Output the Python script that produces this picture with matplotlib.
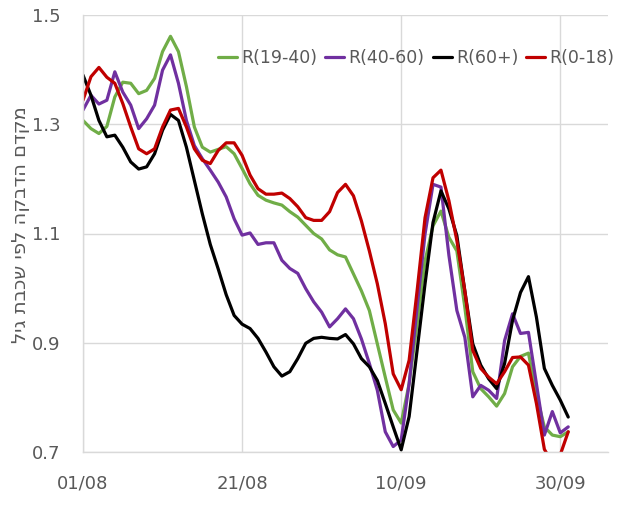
import pandas as pd
import matplotlib
matplotlib.use("Agg")
import matplotlib.pyplot as plt
import matplotlib.dates as mdates

# daily values, 01/08 .. 01/10
dates = pd.date_range("2020-08-01", periods=62, freq="D")

r_19_40 = [1.307, 1.292, 1.283, 1.296, 1.350, 1.377, 1.375, 1.356, 1.362, 1.384,
           1.433, 1.461, 1.433, 1.369, 1.295, 1.258, 1.249, 1.254, 1.259, 1.246,
           1.219, 1.191, 1.170, 1.161, 1.156, 1.152, 1.140, 1.130, 1.115, 1.100,
           1.090, 1.070, 1.061, 1.057, 1.026, 0.995, 0.959, 0.898, 0.837, 0.777,
           0.753, 0.825, 0.935, 1.050, 1.114, 1.141, 1.093, 1.068, 0.965, 0.847,
           0.816, 0.801, 0.784, 0.807, 0.856, 0.875, 0.881, 0.805, 0.746, 0.731,
           0.728, 0.737]

r_40_60 = [1.326, 1.353, 1.337, 1.344, 1.396, 1.359, 1.335, 1.292, 1.310, 1.335,
           1.399, 1.427, 1.375, 1.307, 1.261, 1.237, 1.216, 1.194, 1.167, 1.127,
           1.097, 1.101, 1.080, 1.083, 1.083, 1.051, 1.036, 1.027, 0.999, 0.975,
           0.956, 0.929, 0.944, 0.962, 0.944, 0.907, 0.862, 0.813, 0.737, 0.710,
           0.722, 0.825, 0.965, 1.099, 1.190, 1.185, 1.060, 0.959, 0.910, 0.801,
           0.822, 0.813, 0.798, 0.904, 0.953, 0.917, 0.919, 0.825, 0.731, 0.774,
           0.735, 0.746]

r_60p = [1.390, 1.353, 1.307, 1.277, 1.280, 1.258, 1.231, 1.218, 1.222, 1.246,
         1.289, 1.318, 1.307, 1.258, 1.197, 1.136, 1.080, 1.035, 0.988, 0.950,
         0.934, 0.926, 0.908, 0.883, 0.856, 0.839, 0.847, 0.871, 0.899, 0.908,
         0.910, 0.908, 0.907, 0.915, 0.898, 0.871, 0.856, 0.831, 0.789, 0.746,
         0.704, 0.765, 0.886, 1.008, 1.120, 1.178, 1.145, 1.096, 0.995, 0.898,
         0.859, 0.834, 0.816, 0.862, 0.941, 0.992, 1.021, 0.947, 0.853, 0.822,
         0.795, 0.764]

r_0_18 = [1.344, 1.387, 1.404, 1.386, 1.375, 1.338, 1.295, 1.255, 1.246, 1.255,
          1.295, 1.326, 1.329, 1.295, 1.255, 1.234, 1.228, 1.252, 1.266, 1.266,
          1.243, 1.207, 1.182, 1.172, 1.172, 1.174, 1.164, 1.149, 1.129, 1.124,
          1.124, 1.140, 1.175, 1.190, 1.169, 1.123, 1.068, 1.008, 0.935, 0.843,
          0.814, 0.868, 0.995, 1.129, 1.202, 1.216, 1.160, 1.087, 0.995, 0.886,
          0.853, 0.837, 0.825, 0.847, 0.873, 0.874, 0.859, 0.789, 0.705, 0.680,
          0.695, 0.737]

series = [("R(19-40)", r_19_40, "#70ad47"),
          ("R(40-60)", r_40_60, "#7030a0"),
          ("R(60+)", r_60p, "#000000"),
          ("R(0-18)", r_0_18, "#c00000")]

tick_dates = pd.to_datetime(["2020-08-01", "2020-08-21", "2020-09-10", "2020-09-30"])
y_ticks = [0.7, 0.9, 1.1, 1.3, 1.5]
# Hebrew label, reversed because matplotlib draws it left to right
ylabel = "מקדם הדבקה לפי שכבת גיל"[::-1]

plt.rcParams['font.family'] = ['DejaVu Sans']
grey = "#595959"
grid = "#d9d9d9"

fig = plt.figure(figsize=(6.23, 5.12), dpi=100)
ax = fig.add_axes([83/623, 1 - 452/512, 525/623, 437/512])

for name, vals, col in series:
    ax.plot(dates, vals, color=col, lw=2.3, label=name,
            solid_joinstyle="round", solid_capstyle="round")

ax.set_ylim(0.7, 1.5)
ax.set_xlim(pd.Timestamp("2020-08-01"), pd.Timestamp("2020-10-06"))
ax.set_yticks(y_ticks)
ax.set_yticklabels([f"{v:.1f}" for v in y_ticks])
ax.set_xticks(tick_dates)
ax.xaxis.set_major_formatter(mdates.DateFormatter("%d/%m"))

ax.grid(True, color=grid, lw=1)
ax.set_axisbelow(True)
for s in ["top", "right"]:
    ax.spines[s].set_visible(False)
for s in ["left", "bottom"]:
    ax.spines[s].set_color(grid)
    ax.spines[s].set_linewidth(1)

ax.tick_params(length=0, labelsize=13, labelcolor=grey)
ax.tick_params(axis="x", pad=16)
ax.tick_params(axis="y", pad=16)

fig.text(20.5/623, 1 - 225/512, ylabel, rotation=90, ha="center", va="center",
         fontsize=14, color=grey)

fig.legend(loc="center left", bbox_to_anchor=(218/623, 1 - 58/512), ncol=4,
           frameon=False, fontsize=12.5, labelcolor=grey, handlelength=1.1,
           handletextpad=0.25, columnspacing=0.45, borderpad=0, borderaxespad=0)

fig.savefig("out.png", dpi=100)
